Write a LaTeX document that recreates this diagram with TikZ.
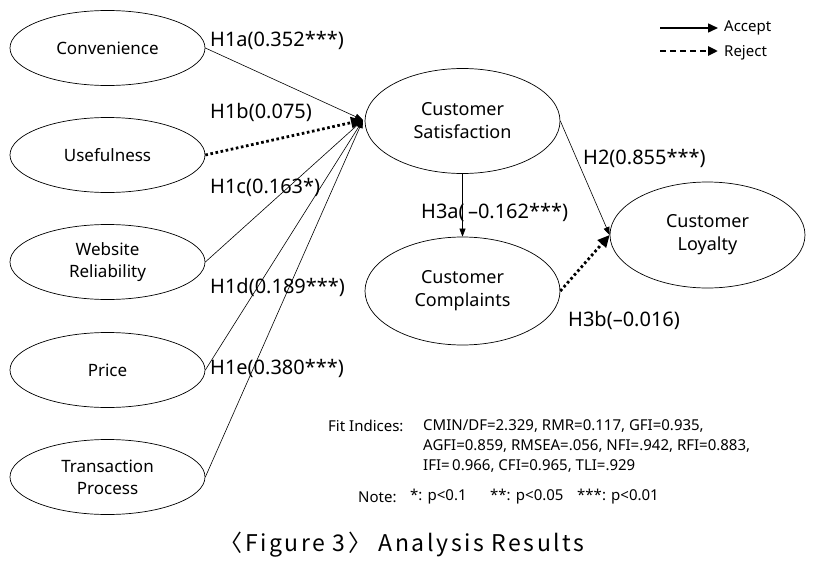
\documentclass[tikz,border=0pt]{standalone}
\usepackage{fontspec}
\setmainfont{Noto Sans}
\newfontfamily\capfont[LetterSpace=11]{Noto Sans CJK KR}
\usetikzlibrary{arrows.meta,shapes.geometric}
\begin{document}
\begin{tikzpicture}[x=1pt,y=-1pt,
  var/.style={ellipse,draw,line width=0.7pt,inner sep=0pt,align=center},
  smallvar/.style={var,minimum width=195pt,minimum height=75pt,font=\fontsize{17}{22}\selectfont},
  bigvar/.style={var,minimum width=195pt,font=\fontsize{18}{23}\selectfont},
  acc/.style={line width=0.6pt,-{Triangle[length=8pt,width=6pt]}},
  rej/.style={line width=2.8pt,dash pattern=on 2.6pt off 2.6pt,-{Triangle[length=12pt,width=11pt]}},
  lab/.style={anchor=west,inner sep=0pt,font=\fontsize{20}{24}\selectfont},
  fit/.style={anchor=west,inner sep=0pt,font=\fontsize{15}{18}\selectfont},
  leg/.style={anchor=west,inner sep=0pt,font=\fontsize{15}{18}\selectfont}]
\useasboundingbox (0,0) rectangle (825,570);
% variables
\node[smallvar] (conv) at (107.5,48) {Convenience};
\node[smallvar] (use) at (107.5,155) {Usefulness};
\node[smallvar] (web) at (107.5,262) {Website\\Reliability};
\node[smallvar] (price) at (107.5,370) {Price};
\node[smallvar] (trans) at (107.5,477) {Transaction\\Process};
\node[bigvar,minimum height=105pt] (sat) at (462.5,121) {Customer\\Satisfaction};
\node[bigvar,minimum height=108pt] (comp) at (462.5,291) {Customer\\Complaints};
\node[bigvar,minimum height=106pt] (loy) at (707.5,235) {Customer\\Loyalty};
\coordinate (sin) at (363,120);
% connectors
\draw[acc] (conv.east) -- (sin);
\draw[rej] (use.east) -- (sin);
\draw[acc] (web.east) -- (sin);
\draw[acc] (price.east) -- (sin);
\draw[acc] (trans.east) -- (sin);
\draw[acc] (sat.south) -- (comp.north);
\draw[acc] (sat.east) -- (loy.west);
\draw[rej] (comp.east) -- (loy.west);
% labels
\node[lab] (l1a) at (210,40) {H1a(0.352***)};
\node[lab] (l1b) at (210,112) {H1b(0.075)};
\node[lab] (l1c) at (210,187) {H1c(0.163*)};
\node[lab] (l1d) at (210,287) {H1d(0.189***)};
\node[lab] (l1e) at (210,368) {H1e(0.380***)};
\node[lab] (l2) at (583,158) {H2(0.855***)};
\node[lab] (l3a) at (421,212) {H3a(\,–0.162***)};
\node[lab] (l3b) at (568,320) {H3b(–0.016)};
% legend
\coordinate (la1) at (660,28);
\coordinate (la2) at (718,28);
\coordinate (lr1) at (660,51);
\coordinate (lr2) at (718,51);
\draw[line width=1.5pt,-{Triangle[length=10pt,width=9pt]}] (la1) -- (la2);
\draw[line width=2.6pt,dash pattern=on 6pt off 4pt,-{Triangle[length=10pt,width=9pt]}] (lr1) -- (lr2);
\node[leg] (acctext) at (724,28) {Accept};
\node[leg] (rejtext) at (724,53) {Reject};
% fit indices
\node[fit] (fitlab) at (328,426) {Fit Indices:};
\node[fit] (fit1) at (423,426) {CMIN/DF=2.329, RMR=0.117, GFI=0.935,};
\node[fit] (fit2) at (423,446) {AGFI=0.859, RMSEA=.056, NFI=.942, RFI=0.883,};
\node[fit] (fit3) at (423,466) {IFI=\,0.966, CFI=0.965, TLI=.929};
\node[fit] (note) at (358,497) {Note:};
\node[fit] (n1) at (410,497) {*: p<0.1};
\node[fit] (n2) at (490,497) {**: p<0.05};
\node[fit] (n3) at (577,497) {***: p<0.01};
% caption
\node[anchor=center,inner sep=0pt,font=\capfont\fontsize{23}{27}\selectfont] (cap) at (402,545) {〈Figure 3〉 Analysis Results};
\end{tikzpicture}
\end{document}
